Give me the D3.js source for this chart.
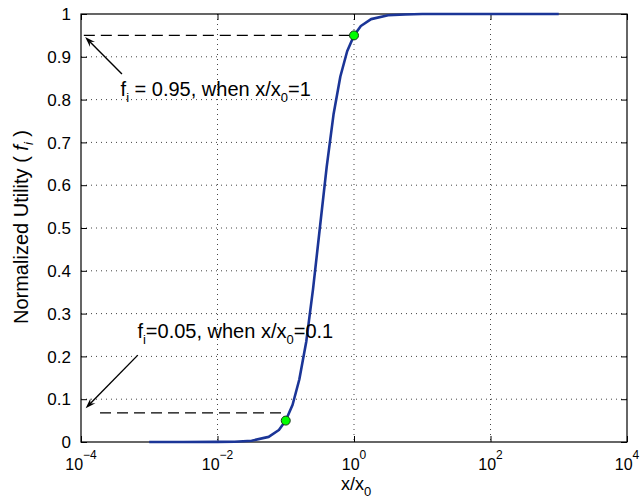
<!DOCTYPE html>
<html>
<head>
<meta charset="utf-8">
<title>Normalized utility</title>
<script src="https://d3js.org/d3.v7.min.js"></script>
<style>
body { margin: 0; background: #fff; }
text { font-family: "Liberation Sans", Arial, sans-serif; fill: #000; }
</style>
</head>
<body>
<div id="chart"></div>
<script>
// curve: x/x0 and normalized utility f_i
var curveX = [0.001, 0.00316, 0.01, 0.0178, 0.0316, 0.0562, 0.0794, 0.1, 0.126, 0.158, 0.2, 0.251, 0.316, 0.398, 0.501, 0.631, 0.794, 1, 1.26, 1.78, 3.16, 5.62, 10, 31.6, 100, 1000];
var curveF = [0, 0, 0.0002, 0.0006, 0.003, 0.012, 0.028, 0.05, 0.087, 0.146, 0.235, 0.357, 0.5, 0.643, 0.765, 0.854, 0.913, 0.95, 0.972, 0.988, 0.997, 0.999, 1, 1, 1, 1];

// green marked points
var markX = [0.1, 1];
var markF = [0.05, 0.95];

// ticks
var xTicks = [1e-4, 1e-2, 1, 1e2, 1e4];
var xTickExp = ["\u22124", "\u22122", "0", "2", "4"];
var yTicks = [0, 0.1, 0.2, 0.3, 0.4, 0.5, 0.6, 0.7, 0.8, 0.9, 1];

// annotations (data coordinates)
var dashX1 = [1.1e-4, 1.9e-4];
var dashX2 = [1, 0.1];
var dashF = [0.95, 0.068];
var arrowFrom = [[3.98e-4, 0.86], [6.8e-4, 0.203]];
var arrowTo = [[1.15e-4, 0.946], [1.17e-4, 0.079]];
var noteX = [3.8e-4, 6.7e-4];
var noteF = [0.808, 0.243];
var notePre = [" = 0.95, when x/x", "=0.05, when x/x"];
var notePost = ["=1", "=0.1"];

var W = 641, H = 501;
var margin = {top: 14, right: 14, bottom: 59, left: 81};
var width = W - margin.left - margin.right,
    height = H - margin.top - margin.bottom;

var svg = d3.select("#chart").append("svg")
    .attr("width", W).attr("height", H);
var g = svg.append("g")
    .attr("transform", "translate(" + margin.left + "," + margin.top + ")");

var x = d3.scaleLog().domain([1e-4, 1e4]).range([0, width]);
var y = d3.scaleLinear().domain([0, 1]).range([height, 0]);

// grid
g.selectAll(".gx").data(xTicks.slice(1, -1)).enter().append("line")
    .attr("x1", d => x(d)).attr("x2", d => x(d))
    .attr("y1", 0).attr("y2", height)
    .attr("stroke", "#444").attr("stroke-width", 1).attr("stroke-dasharray", "1,4");
g.selectAll(".gy").data(yTicks.slice(1, -1)).enter().append("line")
    .attr("x1", 0).attr("x2", width)
    .attr("y1", d => y(d)).attr("y2", d => y(d))
    .attr("stroke", "#444").attr("stroke-width", 1).attr("stroke-dasharray", "1,4");

// axes ticks (inward, all four sides)
function ticksOnly(sel) { sel.select(".domain").remove(); sel.selectAll("text").remove(); }
g.append("g").attr("transform", "translate(0," + height + ")")
    .call(d3.axisBottom(x).tickValues(xTicks).tickSize(-6)).call(ticksOnly);
g.append("g")
    .call(d3.axisTop(x).tickValues(xTicks).tickSize(-6)).call(ticksOnly);
g.append("g")
    .call(d3.axisLeft(y).tickValues(yTicks).tickSize(-6)).call(ticksOnly);
g.append("g").attr("transform", "translate(" + width + ",0)")
    .call(d3.axisRight(y).tickValues(yTicks).tickSize(-6)).call(ticksOnly);

g.append("rect").attr("width", width).attr("height", height)
    .attr("fill", "none").attr("stroke", "#000").attr("stroke-width", 1.2);

// tick labels
g.selectAll(".yl").data(yTicks).enter().append("text")
    .attr("x", -10).attr("y", d => y(d)).attr("dy", "0.36em")
    .attr("text-anchor", "end").attr("font-size", 17)
    .text(d => d3.format("~g")(d));

var xl = g.selectAll(".xl").data(xTicks).enter().append("text")
    .attr("x", d => x(d)).attr("y", height + 28)
    .attr("text-anchor", "middle").attr("font-size", 16);
xl.append("tspan").text("10");
xl.append("tspan").attr("dy", -11).attr("font-size", 12).text((d, i) => xTickExp[i]);

// axis titles
var xt = g.append("text").attr("x", width / 2 + 2).attr("y", height + 48)
    .attr("text-anchor", "middle").attr("font-size", 18);
xt.append("tspan").text("x/x");
xt.append("tspan").attr("dy", 6).attr("font-size", 13).text("0");

var yt = svg.append("text")
    .attr("transform", "translate(28," + (margin.top + height / 2 - 1) + ") rotate(-90)")
    .attr("text-anchor", "middle").attr("font-size", 20);
yt.append("tspan").text("Normalized Utility ( ");
yt.append("tspan").attr("font-style", "italic").text("f");
yt.append("tspan").attr("font-style", "italic").attr("font-size", 13).attr("dy", 5).text("i");
yt.append("tspan").attr("dy", -5).text(" )");

// dashed guide lines
g.selectAll(".dash").data(dashF).enter().append("line")
    .attr("x1", (d, i) => x(dashX1[i])).attr("x2", (d, i) => x(dashX2[i]))
    .attr("y1", d => y(d)).attr("y2", d => y(d))
    .attr("stroke", "#000").attr("stroke-width", 1.3).attr("stroke-dasharray", "11,6");

// curve
var line = d3.line().x(d => x(d[0])).y(d => y(d[1]));
g.append("path").datum(d3.zip(curveX, curveF))
    .attr("d", line).attr("fill", "none")
    .attr("stroke", "#1b3597").attr("stroke-width", 2.6).attr("stroke-linejoin", "round");

// markers
g.selectAll(".mk").data(markX).enter().append("circle")
    .attr("cx", d => x(d)).attr("cy", (d, i) => y(markF[i])).attr("r", 4.5)
    .attr("fill", "#00ff00").attr("stroke", "#1a3a1a").attr("stroke-width", 1);

// arrows
arrowFrom.forEach(function(a, i) {
    var x0 = x(a[0]), y0 = y(a[1]), x1 = x(arrowTo[i][0]), y1 = y(arrowTo[i][1]);
    var ang = Math.atan2(y1 - y0, x1 - x0), L = 11, s = 0.32;
    g.append("line").attr("x1", x0).attr("y1", y0)
        .attr("x2", x1 - 6 * Math.cos(ang)).attr("y2", y1 - 6 * Math.sin(ang))
        .attr("stroke", "#000").attr("stroke-width", 1.4);
    var p = [[x1, y1],
        [x1 - L * Math.cos(ang - s), y1 - L * Math.sin(ang - s)],
        [x1 - 0.6 * L * Math.cos(ang), y1 - 0.6 * L * Math.sin(ang)],
        [x1 - L * Math.cos(ang + s), y1 - L * Math.sin(ang + s)]];
    g.append("polygon").attr("points", p.map(q => q.join(",")).join(" "))
        .attr("fill", "#000");
});

// annotation text
noteX.forEach(function(nx, i) {
    var t = g.append("text").attr("x", x(nx)).attr("y", y(noteF[i])).attr("font-size", 20);
    t.append("tspan").text("f");
    t.append("tspan").attr("font-size", 13).attr("dy", 6).text("i");
    t.append("tspan").attr("dy", -6).text(notePre[i]);
    t.append("tspan").attr("font-size", 13).attr("dy", 6).text("0");
    t.append("tspan").attr("dy", -6).text(notePost[i]);
});
</script>
</body>
</html>
